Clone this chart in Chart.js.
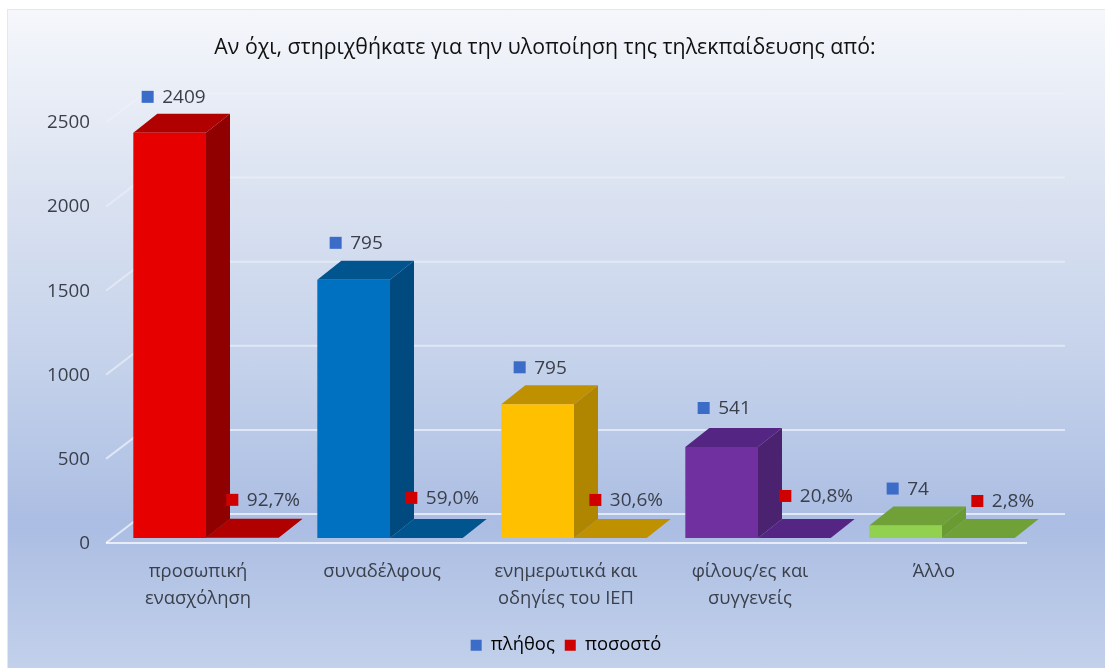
<!DOCTYPE html>
<html>
<head>
<meta charset="utf-8">
<script src="https://cdn.jsdelivr.net/npm/chart.js@4"></script>
<style>
  html, body { margin: 0; padding: 0; background: #fff; overflow: hidden; }
  #card {
    position: absolute; left: 7px; top: 9px; width: 1098px; height: 659px;
    border-left: 1px solid #e3e7ee; border-top: 1px solid #e3e7ee; box-sizing: border-box;
    background: linear-gradient(180deg, #f5f7fb 0%, #dde4f2 25%, #c3d1ea 55%, #abbde3 78%, #c2d0ea 100%);
  }
  canvas { position: absolute; left: 0; top: 0; }
</style>
</head>
<body>
<div id="card"></div>
<canvas id="chart" width="1105" height="668"></canvas>
<script>
const titleText = 'Αν όχι, στηριχθήκατε για την υλοποίηση της τηλεκπαίδευσης από:';
const categories = [['προσωπική', 'ενασχόληση'], 'συναδέλφους', ['ενημερωτικά και', 'οδηγίες του ΙΕΠ'], ['φίλους/ες και', 'συγγενείς'], 'Άλλο'];
const seriesNames = ['πλήθος', 'ποσοστό'];
const countValues = [2409, 1535, 795, 541, 74];
const countLabels = ['2409', '795', '795', '541', '74'];
const shareValues = [0.927, 0.59, 0.306, 0.208, 0.028];
const shareLabels = ['92,7%', '59,0%', '30,6%', '20,8%', '2,8%'];
const yTicks = [0, 500, 1000, 1500, 2000, 2500];

const frontColors = ['#e60000', '#0070c0', '#ffc000', '#7030a0', '#92d050'];
const topColors = ['#b00000', '#00558f', '#bf9000', '#552583', '#70a038'];
const sideColors = ['#900000', '#004a7f', '#b08500', '#4a2270', '#6a9a32'];
const seriesColors = ['#3a6cc8', '#d00000'];

const textColor = '#3a3f4a';
const fontFamily = '"Open Sans", "Noto Sans", sans-serif';
// depth of the fake 3D bars and of the floor/wall
const barDepth = { x: 24, y: -19 };
const wallDepth = { x: 38, y: -29 };
const frontGap = 5;

// hand placed labels, offset from the bar they belong to
const countShift = [[-22, -36], [-18, -37], [-18, -37], [-18, -39], [-13, -37]];
const shareShift = [[-10, -38], [-15, -40], [-15, -38], [-9, -42], [-1, -37]];

function poly(ctx, points, color) {
  ctx.fillStyle = color;
  ctx.beginPath();
  points.forEach((p, i) => (i ? ctx.lineTo(p[0], p[1]) : ctx.moveTo(p[0], p[1])));
  ctx.closePath();
  ctx.fill();
}

function drawWalls(chart) {
  const { ctx, scales: { y }, chartArea } = chart;
  const frontLeft = chartArea.left - 8;
  ctx.save();
  ctx.lineWidth = 2;
  yTicks.forEach((tick) => {
    const py = y.getPixelForValue(tick) + frontGap;
    // lines fade towards the top of the chart
    const alpha = 0.65 - 0.45 * (tick / 2500);
    ctx.strokeStyle = `rgba(255,255,255,${alpha})`;
    ctx.beginPath();
    ctx.moveTo(frontLeft, py);
    ctx.lineTo(frontLeft + wallDepth.x, py + wallDepth.y);
    ctx.lineTo(chartArea.right + wallDepth.x - 7, py + wallDepth.y);
    ctx.stroke();
  });
  const base = y.getPixelForValue(0) + frontGap;
  ctx.strokeStyle = 'rgba(255,255,255,0.7)';
  ctx.beginPath();
  ctx.moveTo(frontLeft, base);
  ctx.lineTo(chartArea.right - 7, base);
  ctx.stroke();
  ctx.restore();
}

function drawDepth(chart, datasetIndex) {
  const ctx = chart.ctx;
  chart.getDatasetMeta(datasetIndex).data.forEach((bar, i) => {
    const half = bar.width / 2;
    const l = bar.x - half, r = bar.x + half, t = bar.y, b = bar.base;
    const d = barDepth;
    poly(ctx, [[l, t], [r, t], [r + d.x, t + d.y], [l + d.x, t + d.y]], topColors[i]);
    if (b - t > 1) {
      poly(ctx, [[r, t], [r + d.x, t + d.y], [r + d.x, b + d.y], [r, b]], sideColors[i]);
    }
  });
}

function drawLabels(chart, datasetIndex, labels, shifts) {
  const ctx = chart.ctx;
  ctx.save();
  ctx.font = `19px ${fontFamily}`;
  ctx.textBaseline = 'middle';
  ctx.textAlign = 'left';
  chart.getDatasetMeta(datasetIndex).data.forEach((bar, i) => {
    const mx = bar.x + shifts[i][0];
    const my = bar.y + shifts[i][1];
    ctx.fillStyle = seriesColors[datasetIndex];
    ctx.fillRect(mx - 6, my - 6, 12, 12);
    ctx.fillStyle = textColor;
    ctx.fillText(labels[i], mx + 14.5, my + 1);
  });
  ctx.restore();
}

function shiftBox(box, dx) {
  box.left += dx;
  box.right += dx;
}

const depthPlugin = {
  id: 'depthPlugin',
  afterLayout(chart) {
    // title and legend are not centred on the plot in the original
    shiftBox(chart.titleBlock, 28);
    shiftBox(chart.legend, 49);
  },
  beforeDatasetsDraw(chart) {
    drawWalls(chart);
    drawDepth(chart, 1);
    drawDepth(chart, 0);
  },
  afterDatasetsDraw(chart) {
    drawLabels(chart, 0, countLabels, countShift);
    drawLabels(chart, 1, shareLabels, shareShift);
  }
};

new Chart(document.getElementById('chart'), {
  type: 'bar',
  data: {
    labels: categories,
    datasets: [
      { label: seriesNames[0], data: countValues, backgroundColor: frontColors, order: 1 },
      { label: seriesNames[1], data: shareValues, backgroundColor: frontColors, order: 2 }
    ]
  },
  options: {
    responsive: false,
    animation: false,
    layout: { padding: { left: 0, right: 71, top: 0, bottom: 3.6 } },
    datasets: { bar: { categoryPercentage: 0.79, barPercentage: 1 } },
    scales: {
      x: {
        grid: { display: false },
        border: { display: false },
        afterFit(scale) { scale.height = 88; },
        ticks: {
          color: textColor,
          font: { family: fontFamily, size: 18.4, lineHeight: 1.47 },
          labelOffset: -8,
          padding: 12,
          maxRotation: 0,
          autoSkip: false
        }
      },
      y: {
        min: 0,
        max: 2500,
        grid: { display: false, drawTicks: false },
        border: { display: false },
        afterFit(scale) { scale.width = 114; },
        ticks: {
          stepSize: 500,
          color: textColor,
          font: { family: fontFamily, size: 18.8 },
          labelOffset: 5.5,
          padding: 24,
          callback: (value) => String(value)
        }
      }
    },
    plugins: {
      tooltip: { enabled: false },
      title: {
        display: true,
        text: titleText,
        color: '#111',
        font: { family: fontFamily, size: 21.3, weight: 'normal', lineHeight: 1.25 },
        padding: { top: 35, bottom: 55.9 }
      },
      legend: {
        position: 'bottom',
        labels: {
          color: textColor,
          font: { family: fontFamily, size: 18.4 },
          boxWidth: 11,
          boxHeight: 11,
          generateLabels() {
            return seriesNames.map((name, i) => ({
              text: name, fillStyle: seriesColors[i], strokeStyle: seriesColors[i], lineWidth: 0, datasetIndex: i
            }));
          }
        }
      }
    }
  },
  plugins: [depthPlugin]
});
</script>
</body>
</html>
